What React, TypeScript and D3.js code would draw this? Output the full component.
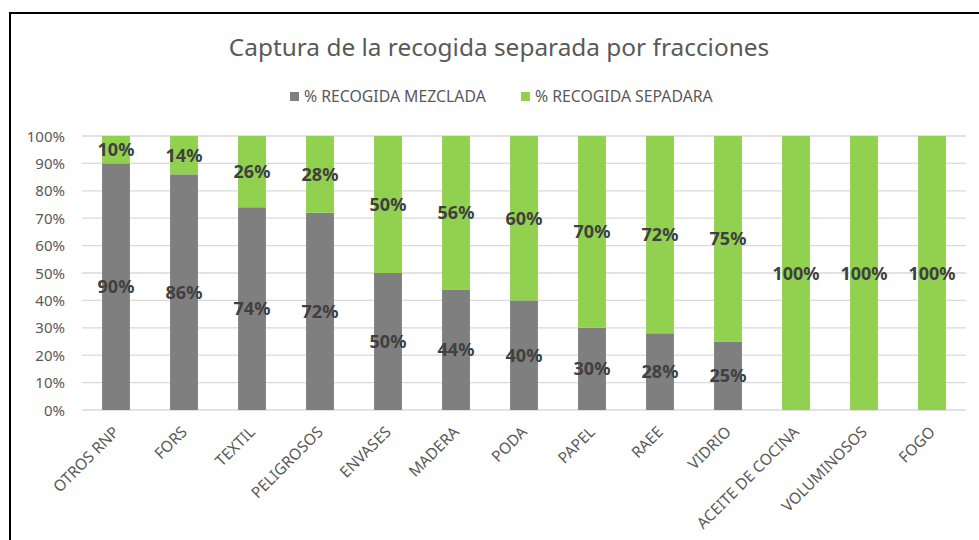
import React from "react";
import * as d3 from "d3";

const categories = [
  "OTROS RNP", "FORS", "TEXTIL", "PELIGROSOS", "ENVASES", "MADERA", "PODA",
  "PAPEL", "RAEE", "VIDRIO", "ACEITE DE COCINA", "VOLUMINOSOS", "FOGO",
];
const mezclada = [90, 86, 74, 72, 50, 44, 40, 30, 28, 25, 0, 0, 0];
const separada = [10, 14, 26, 28, 50, 56, 60, 70, 72, 75, 100, 100, 100];
const yTicks = [0, 10, 20, 30, 40, 50, 60, 70, 80, 90, 100];

const W = 979;
const H = 540;
const GRAY = "#7f7f7f";
const GREEN = "#92d050";
const FONT = "'Noto Sans', 'Open Sans', sans-serif";

export default function App() {
  const x = d3.scaleBand<string>().domain(categories).range([82, 966]).paddingInner(0.59).paddingOuter(0.295);
  const y = d3.scaleLinear().domain([0, 100]).range([410, 136]);

  const rows = categories.map((c, i) => ({ c, m: mezclada[i], s: separada[i] }));

  return (
    <div style={{ position: "absolute", left: 0, top: 0 }}>
      <svg width={W} height={H} style={{ display: "block", background: "#fff" }}>
        <rect x={10} y={13} width={W + 20} height={H + 20} fill="#fff" stroke="#000" strokeWidth={2} />

        <text x={499} y={56} textAnchor="middle" fontFamily={FONT} fontSize={24.4} fill="#595959">
          Captura de la recogida separada por fracciones
        </text>

        {/* legend */}
        <g fontFamily={FONT} fontSize={15.8} fill="#595959">
          <rect x={290} y={92} width={9} height={9} fill={GRAY} />
          <text x={304} y={102}>% RECOGIDA MEZCLADA</text>
          <rect x={521} y={92} width={9} height={9} fill={GREEN} />
          <text x={535} y={102}>% RECOGIDA SEPADARA</text>
        </g>

        {/* gridlines + y labels */}
        {yTicks.map((t) => (
          <g key={t}>
            <line x1={82} x2={966} y1={y(t)} y2={y(t)} stroke="#d9d9d9" strokeWidth={1.3} />
            <text x={65} y={y(t) + 5.5} textAnchor="end" fontFamily={FONT} fontSize={15} fill="#595959">
              {t}%
            </text>
          </g>
        ))}

        {/* bars */}
        {rows.map((r) => (
          <g key={r.c}>
            <rect x={x(r.c)} y={y(r.m)} width={x.bandwidth()} height={y(0) - y(r.m)} fill={GRAY} />
            <rect x={x(r.c)} y={y(r.m + r.s)} width={x.bandwidth()} height={y(r.m) - y(r.m + r.s)} fill={GREEN} />
          </g>
        ))}

        {/* data labels */}
        <g fontFamily={FONT} fontSize={18} fontWeight="bold" fill="#404040" textAnchor="middle">
          {rows.map((r) => {
            const cx = (x(r.c) as number) + x.bandwidth() / 2;
            return (
              <g key={r.c}>
                {r.m > 0 && (
                  <text x={cx} y={y(r.m / 2) + 6.5}>{r.m}%</text>
                )}
                {r.s > 0 && (
                  <text x={cx} y={y(r.m + r.s / 2) + 6.5}>{r.s}%</text>
                )}
              </g>
            );
          })}
        </g>

        {/* x labels */}
        <g fontFamily={FONT} fontSize={15.5} fill="#595959">
          {categories.map((c) => {
            const cx = (x(c) as number) + x.bandwidth() / 2 + 4;
            return (
              <text key={c} x={cx} y={433} textAnchor="end" transform={`rotate(-45 ${cx} ${433})`}>
                {c}
              </text>
            );
          })}
        </g>
      </svg>
    </div>
  );
}
